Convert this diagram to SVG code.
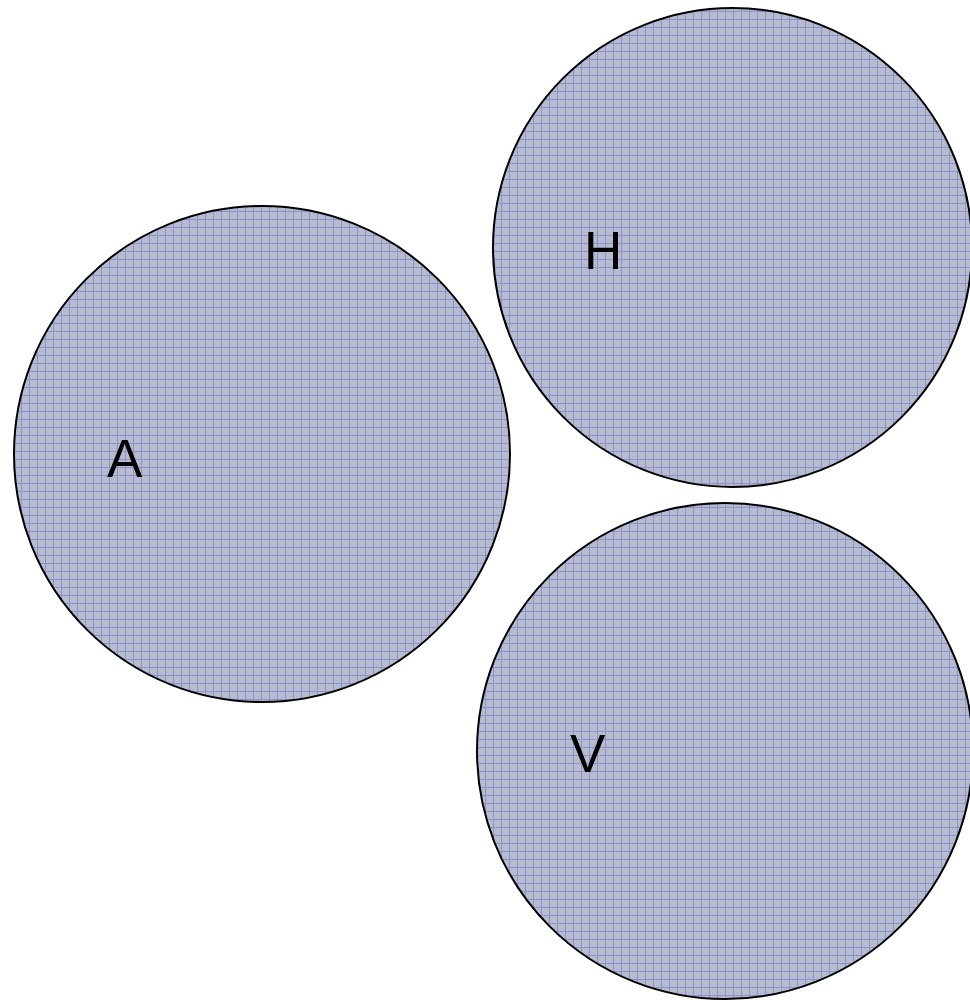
<svg xmlns="http://www.w3.org/2000/svg" width="970" height="1000" viewBox="0 0 970 1000">
<style>
.c{fill:url(#grid);stroke:#000;stroke-width:2}
.t{font-family:"Liberation Sans",Arial,sans-serif;font-size:53px;fill:#000}
</style>
<defs>
<pattern id="fine" width="2" height="2" patternUnits="userSpaceOnUse">
<rect width="2" height="2" fill="#bcc0d4"/>
<rect width="1" height="1" fill="#b2b6cd"/>
<rect x="1" y="1" width="1" height="1" fill="#b2b6cd"/>
</pattern>
<pattern id="grid" width="8" height="8" patternUnits="userSpaceOnUse" x="5" y="3">
<rect width="8" height="8" fill="url(#fine)"/>
<rect width="1" height="8" fill="#8e94c6"/>
<rect width="8" height="1" fill="#8e94c6"/>
</pattern>
</defs>
<rect width="970" height="1000" fill="#fff"/>
<g id="node-A"><circle class="c" cx="262" cy="454" r="248"/><text class="t" x="107" y="477">A</text></g>
<g id="node-H"><circle class="c" cx="732.5" cy="247.5" r="239.5"/><text class="t" x="584" y="269">H</text></g>
<g id="node-V"><circle class="c" cx="725" cy="751" r="248"/><text class="t" x="570" y="772">V</text></g>
<g id="connectors"></g>
</svg>
